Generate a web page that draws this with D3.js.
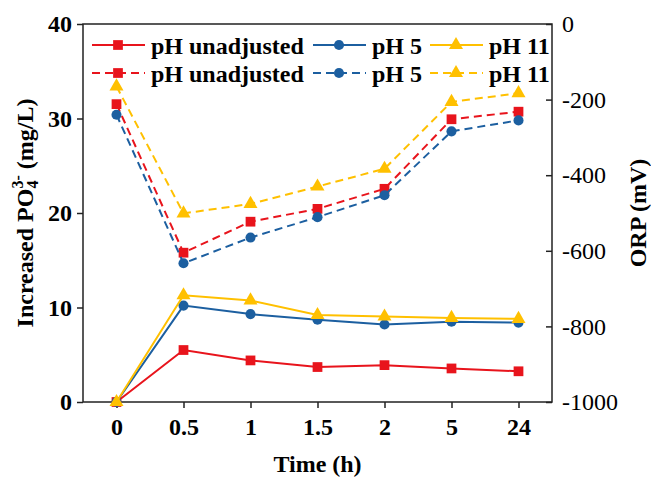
<!DOCTYPE html>
<html>
<head>
<meta charset="utf-8">
<script src="https://cdn.jsdelivr.net/npm/d3@7/dist/d3.min.js"></script>
<style>
  html, body { margin: 0; padding: 0; background: #fff; }
  svg { display: block; }
  text { font-family: "Liberation Serif", "Times New Roman", serif; }
</style>
</head>
<body>
<svg id="chart" width="651" height="479"></svg>
<script>
// ---- data ----
const categories = ["0", "0.5", "1", "1.5", "2", "5", "24"];
const seriesNames = ["pH unadjusted", "pH 5", "pH 11"];
const seriesColors = ["#e8141c", "#1c5fa0", "#ffc000"];
const seriesSymbols = ["square", "circle", "triangle"];
// Increased PO4 3- (mg/L) — solid lines, left axis
const po4Unadjusted = [0, 5.5, 4.4, 3.7, 3.9, 3.55, 3.25];
const po4pH5 = [0, 10.2, 9.3, 8.7, 8.2, 8.5, 8.4];
const po4pH11 = [0, 11.3, 10.75, 9.2, 9.05, 8.9, 8.8];
// ORP (mV) — dashed lines, right axis
const orpUnadjusted = [-212, -605, -523, -489, -436, -252, -232];
const orpPH5 = [-240, -633, -565, -511, -453, -284, -255];
const orpPH11 = [-165, -501, -476, -430, -383, -206, -183];
// ticks
const leftTicks = [0, 10, 20, 30, 40];
const rightTicks = [-1000, -800, -600, -400, -200, 0];

const po4Series = [po4Unadjusted, po4pH5, po4pH11];
const orpSeries = [orpUnadjusted, orpPH5, orpPH11];

// ---- layout ----
const svg = d3.select("#chart");
const L = 83, R = 552, T = 24, B = 402;
const font = "'Liberation Serif', 'Times New Roman', serif";
const axisColor = "#222";

const x = d3.scalePoint().domain(categories).range([L, R]).padding(0.5);
const yL = d3.scaleLinear().domain([0, 40]).range([B, T]);
const yR = d3.scaleLinear().domain([-1000, 0]).range([B, T]);

const symbolType = { square: d3.symbolSquare, circle: d3.symbolCircle, triangle: d3.symbolTriangle };
const symbolSize = { square: 95, circle: 80, triangle: 85 };

// ---- axes ----
function styleAxis(g, bold) {
  g.select(".domain").remove();
  g.selectAll(".tick line").attr("stroke", axisColor).attr("stroke-width", 1.5);
  g.selectAll(".tick text")
    .attr("fill", "#000")
    .style("font-family", font)
    .style("font-size", "24px")
    .style("font-weight", bold ? "bold" : "normal");
}

svg.append("g").attr("transform", `translate(${L},0)`)
  .call(d3.axisLeft(yL).tickValues(leftTicks).tickFormat(d => String(d))
    .tickSizeInner(6).tickSizeOuter(0).tickPadding(5))
  .call(g => styleAxis(g, true));

svg.append("g").attr("transform", `translate(${R},0)`)
  .call(d3.axisRight(yR).tickValues(rightTicks).tickFormat(d => String(d))
    .tickSizeInner(-6).tickSizeOuter(0).tickPadding(10))
  .call(g => styleAxis(g, false));

svg.append("g").attr("transform", `translate(0,${B})`)
  .call(d3.axisBottom(x).tickSizeInner(6).tickSizeOuter(0).tickPadding(10))
  .call(g => styleAxis(g, true));

// frame
svg.append("rect")
  .attr("x", L).attr("y", T).attr("width", R - L).attr("height", B - T)
  .attr("fill", "none").attr("stroke", axisColor).attr("stroke-width", 1.5);

// ---- axis titles ----
svg.append("text")
  .attr("x", (L + R) / 2).attr("y", 472)
  .attr("text-anchor", "middle")
  .style("font-size", "24px").style("font-weight", "bold")
  .text("Time (h)");

const lt = svg.append("text")
  .attr("transform", `translate(33,${(T + B) / 2}) rotate(-90)`)
  .attr("text-anchor", "middle")
  .style("font-size", "24px").style("font-weight", "bold");
lt.append("tspan").text("Increased PO");
lt.append("tspan").attr("dy", 5).style("font-size", "16px").text("4");
lt.append("tspan").attr("dx", -8).attr("dy", -15).style("font-size", "16px").text("3-");
lt.append("tspan").attr("dy", 10).text(" (mg/L)");

svg.append("text")
  .attr("transform", `translate(646,${(T + B) / 2}) rotate(-90)`)
  .attr("text-anchor", "middle")
  .style("font-size", "24px").style("font-weight", "bold")
  .text("ORP (mV)");

// ---- lines ----
function drawSeries(values, scale, i, dashed) {
  const color = seriesColors[i];
  const line = d3.line().x((d, k) => x(categories[k])).y(d => scale(d));
  svg.append("path")
    .datum(values)
    .attr("d", line)
    .attr("fill", "none")
    .attr("stroke", color)
    .attr("stroke-width", 2)
    .attr("stroke-dasharray", dashed ? "8,5" : null);
  const sym = d3.symbol().type(symbolType[seriesSymbols[i]]).size(symbolSize[seriesSymbols[i]]);
  svg.append("g").selectAll("path")
    .data(values)
    .join("path")
    .attr("d", sym)
    .attr("transform", (d, k) => `translate(${x(categories[k])},${scale(d)})`)
    .attr("fill", color);
}

orpSeries.forEach((s, i) => drawSeries(s, yR, i, true));
po4Series.forEach((s, i) => drawSeries(s, yL, i, false));

// ---- legend ----
const legendCols = [92, 313, 430];
const legendRows = [{ y: 45, dashed: false }, { y: 73, dashed: true }];
legendRows.forEach(row => {
  seriesNames.forEach((name, i) => {
    const x0 = legendCols[i];
    const g = svg.append("g");
    g.append("line")
      .attr("x1", x0).attr("x2", x0 + 53)
      .attr("y1", row.y).attr("y2", row.y)
      .attr("stroke", seriesColors[i]).attr("stroke-width", 2)
      .attr("stroke-dasharray", row.dashed ? "8,5" : null);
    g.append("path")
      .attr("d", d3.symbol().type(symbolType[seriesSymbols[i]]).size(symbolSize[seriesSymbols[i]]))
      .attr("transform", `translate(${x0 + 26},${row.y})`)
      .attr("fill", seriesColors[i]);
    g.append("text")
      .attr("x", x0 + 59).attr("y", row.y + 8.5)
      .style("font-size", "24px").style("font-weight", "bold")
      .text(name);
  });
});
</script>
</body>
</html>
